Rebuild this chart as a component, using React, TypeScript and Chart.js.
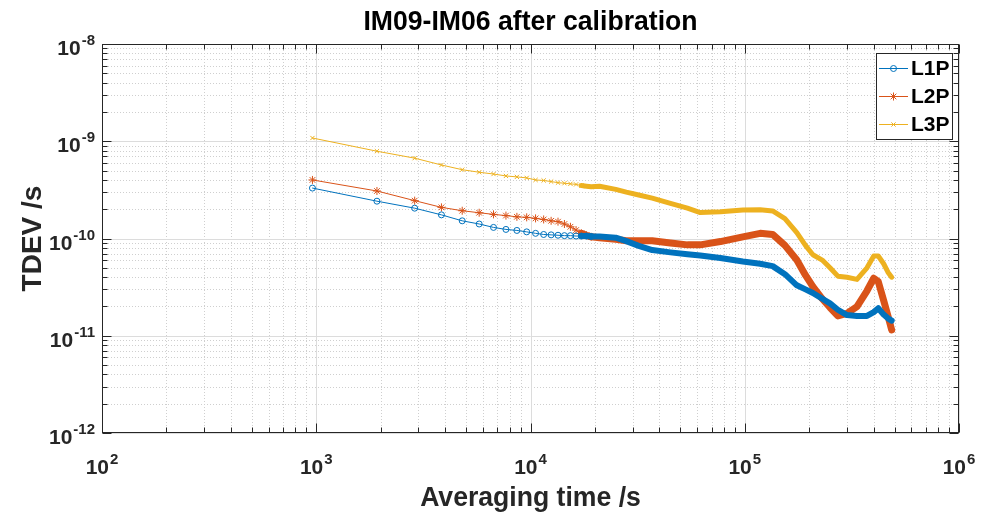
import React, { useEffect, useRef } from 'react';
import { Chart, registerables } from 'chart.js';

Chart.register(...registerables);

// ---------- data ----------
const SPARSE_TAU = [960, 1920, 2880, 3840, 4800, 5760, 6720, 7680, 8640, 9600, 10560, 11520, 12480, 13440, 14400, 15360, 16320, 17280, 18240, 19200];
const DENSE_TAU = [21000, 25000, 28000, 32000, 37000, 45000, 54000, 62000, 77000, 98000, 118000, 135000, 154000, 175000, 192000, 208000, 230000, 250000, 272000, 300000, 334000, 372000, 400000, 420000, 445000, 466000, 485000];

const L1P_SPARSE = [3.3e-10, 2.42e-10, 2.05e-10, 1.75e-10, 1.52e-10, 1.41e-10, 1.30e-10, 1.24e-10, 1.21e-10, 1.17e-10, 1.13e-10, 1.10e-10, 1.09e-10, 1.08e-10, 1.07e-10, 1.07e-10, 1.06e-10, 1.06e-10, 1.06e-10, 1.05e-10];
const L1P_DENSE = [1.05e-10, 1.02e-10, 9.4e-11, 8.4e-11, 7.6e-11, 7.2e-11, 6.9e-11, 6.7e-11, 6.3e-11, 5.8e-11, 5.5e-11, 5.2e-11, 4.3e-11, 3.3e-11, 3.0e-11, 2.75e-11, 2.4e-11, 2.15e-11, 1.85e-11, 1.63e-11, 1.6e-11, 1.6e-11, 1.75e-11, 1.92e-11, 1.65e-11, 1.51e-11, 1.43e-11];

const L2P_SPARSE = [4.0e-10, 3.08e-10, 2.45e-10, 2.09e-10, 1.93e-10, 1.84e-10, 1.77e-10, 1.72e-10, 1.67e-10, 1.65e-10, 1.61e-10, 1.57e-10, 1.52e-10, 1.49e-10, 1.41e-10, 1.32e-10, 1.22e-10, 1.13e-10, 1.08e-10, 1.04e-10];
const L2P_DENSE = [1.02e-10, 9.8e-11, 9.5e-11, 9.5e-11, 9.5e-11, 9.0e-11, 8.6e-11, 8.6e-11, 9.3e-11, 1.04e-10, 1.13e-10, 1.1e-10, 8.5e-11, 6.0e-11, 4.2e-11, 3.2e-11, 2.4e-11, 1.95e-11, 1.6e-11, 1.7e-11, 1.99e-11, 2.9e-11, 3.9e-11, 3.6e-11, 2.3e-11, 1.6e-11, 1.15e-11];

const L3P_SPARSE = [1.08e-9, 7.9e-10, 6.7e-10, 5.7e-10, 5.1e-10, 4.8e-10, 4.6e-10, 4.4e-10, 4.3e-10, 4.2e-10, 4.0e-10, 3.95e-10, 3.85e-10, 3.75e-10, 3.7e-10, 3.65e-10, 3.6e-10, 3.5e-10, 3.45e-10, 3.4e-10];
const L3P_DENSE = [3.45e-10, 3.2e-10, 3.0e-10, 2.8e-10, 2.6e-10, 2.3e-10, 2.05e-10, 1.85e-10, 1.88e-10, 1.96e-10, 1.97e-10, 1.92e-10, 1.6e-10, 1.15e-10, 8.5e-11, 6.8e-11, 6.0e-11, 5.0e-11, 4.1e-11, 4.0e-11, 3.8e-11, 5.0e-11, 6.6e-11, 6.6e-11, 5.5e-11, 4.5e-11, 4.0e-11];

const SERIES_NAMES = ['L1P', 'L2P', 'L3P'];
const X_TICKS = [1e2, 1e3, 1e4, 1e5, 1e6];
const X_TICK_EXPS = ['2', '3', '4', '5', '6'];
const Y_TICKS = [1e-12, 1e-11, 1e-10, 1e-9, 1e-8];
const Y_TICK_EXPS = ['-12', '-11', '-10', '-9', '-8'];
const TITLE = 'IM09-IM06 after calibration';
const X_TITLE = 'Averaging time /s';
const Y_TITLE = 'TDEV /s';

// ---------- styles ----------
const COLORS = ['#0072BD', '#D95319', '#EDB120'];
const MARKERS = ['circle', 'star', 'crossRot'];
const FONT = '"Liberation Sans", Arial, Helvetica, sans-serif';
const AXIS_COLOR = '#262626';

function build(sparse: number[], dense: number[]) {
  return [
    ...SPARSE_TAU.map((t, i) => ({ x: t, y: sparse[i] })),
    ...DENSE_TAU.map((t, i) => ({ x: t, y: dense[i] })),
  ];
}

function makeDataset(idx: number, sparse: number[], dense: number[], thick: number) {
  const color = COLORS[idx];
  const n = SPARSE_TAU.length;
  return {
    label: SERIES_NAMES[idx],
    data: build(sparse, dense),
    borderColor: color,
    backgroundColor: color,
    borderWidth: 1,
    pointStyle: MARKERS[idx],
    pointRadius: (c: any) => (c.dataIndex < n ? (idx === 1 ? 4 : 3) : 0),
    pointBorderColor: color,
    pointBackgroundColor: 'rgba(0,0,0,0)',
    pointBorderWidth: 1,
    borderJoinStyle: 'round',
    borderCapStyle: 'round',
    tension: 0,
    segment: {
      borderWidth: (c: any) => (c.p0DataIndex >= n - 3 ? thick : 1),
    },
  };
}

function minorValues(lo: number, hi: number) {
  const out: number[] = [];
  for (let e = lo; e < hi; e++) {
    for (let m = 2; m <= 9; m++) out.push(m * Math.pow(10, e));
  }
  return out;
}

function drawMarker(ctx: CanvasRenderingContext2D, style: string, x: number, y: number, r: number) {
  ctx.beginPath();
  if (style === 'circle') {
    ctx.arc(x, y, r, 0, Math.PI * 2);
  } else if (style === 'star') {
    ctx.moveTo(x - r, y); ctx.lineTo(x + r, y);
    ctx.moveTo(x, y - r); ctx.lineTo(x, y + r);
    const d = r * 0.707;
    ctx.moveTo(x - d, y - d); ctx.lineTo(x + d, y + d);
    ctx.moveTo(x - d, y + d); ctx.lineTo(x + d, y - d);
  } else {
    const d = r * 0.707;
    ctx.moveTo(x - d, y - d); ctx.lineTo(x + d, y + d);
    ctx.moveTo(x - d, y + d); ctx.lineTo(x + d, y - d);
  }
  ctx.stroke();
}

function drawPow(ctx: CanvasRenderingContext2D, exp: string, x: number, baseY: number, align: 'center' | 'right', supRaise: number) {
  const base = 'bold 21px ' + FONT;
  const sup = 'bold 15px ' + FONT;
  ctx.font = base;
  const w1 = ctx.measureText('10').width;
  ctx.font = sup;
  const w2 = ctx.measureText(exp).width;
  const total = w1 + w2 + 1;
  const sx = align === 'center' ? x - total / 2 : x - total;
  ctx.textAlign = 'left';
  ctx.textBaseline = 'alphabetic';
  ctx.font = base;
  ctx.fillText('10', sx, baseY);
  ctx.font = sup;
  ctx.fillText(exp, sx + w1 + 1, baseY - supRaise);
}

function condensedText(ctx: CanvasRenderingContext2D, text: string, x: number, y: number, sx: number) {
  ctx.save();
  ctx.translate(x, y);
  ctx.scale(sx, 1);
  ctx.fillText(text, 0, 0);
  ctx.restore();
}

const axesPlugin = {
  id: 'matlabAxes',
  beforeDatasetsDraw(chart: any) {
    const { ctx, chartArea: a, scales } = chart;
    const xs = scales.x, ys = scales.y;
    ctx.save();
    ctx.lineWidth = 1;
    ctx.strokeStyle = '#cfcfcf';
    ctx.setLineDash([1, 2]);
    for (const v of minorValues(2, 6)) {
      const px = Math.round(xs.getPixelForValue(v)) + 0.5;
      ctx.beginPath(); ctx.moveTo(px, a.top); ctx.lineTo(px, a.bottom); ctx.stroke();
    }
    for (const v of minorValues(-12, -8)) {
      const py = Math.round(ys.getPixelForValue(v)) + 0.5;
      ctx.beginPath(); ctx.moveTo(a.left, py); ctx.lineTo(a.right, py); ctx.stroke();
    }
    ctx.setLineDash([]);
    ctx.strokeStyle = '#dcdcdc';
    for (const v of X_TICKS) {
      const px = Math.round(xs.getPixelForValue(v)) + 0.5;
      ctx.beginPath(); ctx.moveTo(px, a.top); ctx.lineTo(px, a.bottom); ctx.stroke();
    }
    for (const v of Y_TICKS) {
      const py = Math.round(ys.getPixelForValue(v)) + 0.5;
      ctx.beginPath(); ctx.moveTo(a.left, py); ctx.lineTo(a.right, py); ctx.stroke();
    }
    ctx.restore();
  },
  afterDatasetsDraw(chart: any) {
    const { ctx, chartArea: a, scales } = chart;
    const xs = scales.x, ys = scales.y;
    ctx.save();
    ctx.strokeStyle = AXIS_COLOR;
    ctx.lineWidth = 1;
    const L = Math.round(a.left) + 0.5, R = Math.round(a.right) - 0.5;
    const T = Math.round(a.top) + 0.5, B = Math.round(a.bottom) - 0.5;
    ctx.strokeRect(L, T, R - L, B - T);
    const tick = (v: number, major: boolean, axis: 'x' | 'y') => {
      const len = major ? 9 : 5;
      ctx.beginPath();
      if (axis === 'x') {
        const px = Math.round(xs.getPixelForValue(v)) + 0.5;
        ctx.moveTo(px, B); ctx.lineTo(px, B - len);
        ctx.moveTo(px, T); ctx.lineTo(px, T + len);
      } else {
        const py = Math.round(ys.getPixelForValue(v)) + 0.5;
        ctx.moveTo(L, py); ctx.lineTo(L + len, py);
        ctx.moveTo(R, py); ctx.lineTo(R - len, py);
      }
      ctx.stroke();
    };
    for (const v of minorValues(2, 6)) tick(v, false, 'x');
    for (const v of X_TICKS) tick(v, true, 'x');
    for (const v of minorValues(-12, -8)) tick(v, false, 'y');
    for (const v of Y_TICKS) tick(v, true, 'y');

    ctx.fillStyle = AXIS_COLOR;
    X_TICKS.forEach((v, i) => {
      const px = xs.getPixelForValue(v);
      drawPow(ctx, X_TICK_EXPS[i], px, a.bottom + 41, 'center', 10);
    });
    Y_TICKS.forEach((v, i) => {
      const py = ys.getPixelForValue(v);
      drawPow(ctx, Y_TICK_EXPS[i], a.left - 7, py + 11, 'right', 10);
    });

    ctx.textAlign = 'center';
    ctx.textBaseline = 'alphabetic';
    ctx.font = 'bold 28px ' + FONT;
    ctx.fillStyle = '#000';
    condensedText(ctx, TITLE, (a.left + a.right) / 2, 30, 0.95);
    ctx.fillStyle = AXIS_COLOR;
    condensedText(ctx, X_TITLE, (a.left + a.right) / 2, 506, 0.95);
    ctx.save();
    ctx.translate(41, (a.top + a.bottom) / 2);
    ctx.rotate(-Math.PI / 2);
    ctx.font = 'bold 28px ' + FONT;
    ctx.fillText(Y_TITLE, 0, 0);
    ctx.restore();

    // legend
    const bx = 876.5, by = 53.5, bw = 76, bh = 86;
    ctx.fillStyle = '#fff';
    ctx.fillRect(bx, by, bw, bh);
    ctx.strokeStyle = AXIS_COLOR;
    ctx.strokeRect(bx, by, bw, bh);
    const rows = [68, 96, 124];
    SERIES_NAMES.forEach((name, i) => {
      const ry = rows[i];
      ctx.strokeStyle = COLORS[i];
      ctx.lineWidth = 1;
      ctx.beginPath(); ctx.moveTo(879, ry + 0.5); ctx.lineTo(908, ry + 0.5); ctx.stroke();
      drawMarker(ctx, MARKERS[i], 893.5, ry + 0.5, i === 1 ? 4 : 3);
      ctx.fillStyle = '#000';
      ctx.font = 'bold 21px ' + FONT;
      ctx.textAlign = 'left';
      ctx.textBaseline = 'middle';
      ctx.fillText(name, 911, ry + 1);
    });
    ctx.restore();
  },
};

export default function App() {
  const ref = useRef<HTMLCanvasElement>(null);
  useEffect(() => {
    const canvas = ref.current;
    if (!canvas) return;
    const chart = new Chart(canvas, {
      type: 'line',
      data: {
        datasets: [
          makeDataset(0, L1P_SPARSE, L1P_DENSE, 6),
          makeDataset(1, L2P_SPARSE, L2P_DENSE, 7),
          makeDataset(2, L3P_SPARSE, L3P_DENSE, 5),
        ] as any,
      },
      options: {
        responsive: false,
        animation: false,
        devicePixelRatio: 1,
        layout: { padding: { left: 102, right: 25, top: 44, bottom: 83 } },
        scales: {
          x: { type: 'logarithmic', min: 1e2, max: 1e6, display: false },
          y: { type: 'logarithmic', min: 1e-12, max: 1e-8, display: false },
        },
        plugins: {
          legend: { display: false },
          title: { display: false },
          tooltip: { enabled: false },
        },
      } as any,
      plugins: [axesPlugin],
    });
    return () => chart.destroy();
  }, []);
  return (
    <div style={{ position: 'fixed', left: 0, top: 0, width: 984, height: 516, background: '#fff' }}>
      <canvas ref={ref} width={984} height={516} style={{ display: 'block', width: 984, height: 516 }} />
    </div>
  );
}
